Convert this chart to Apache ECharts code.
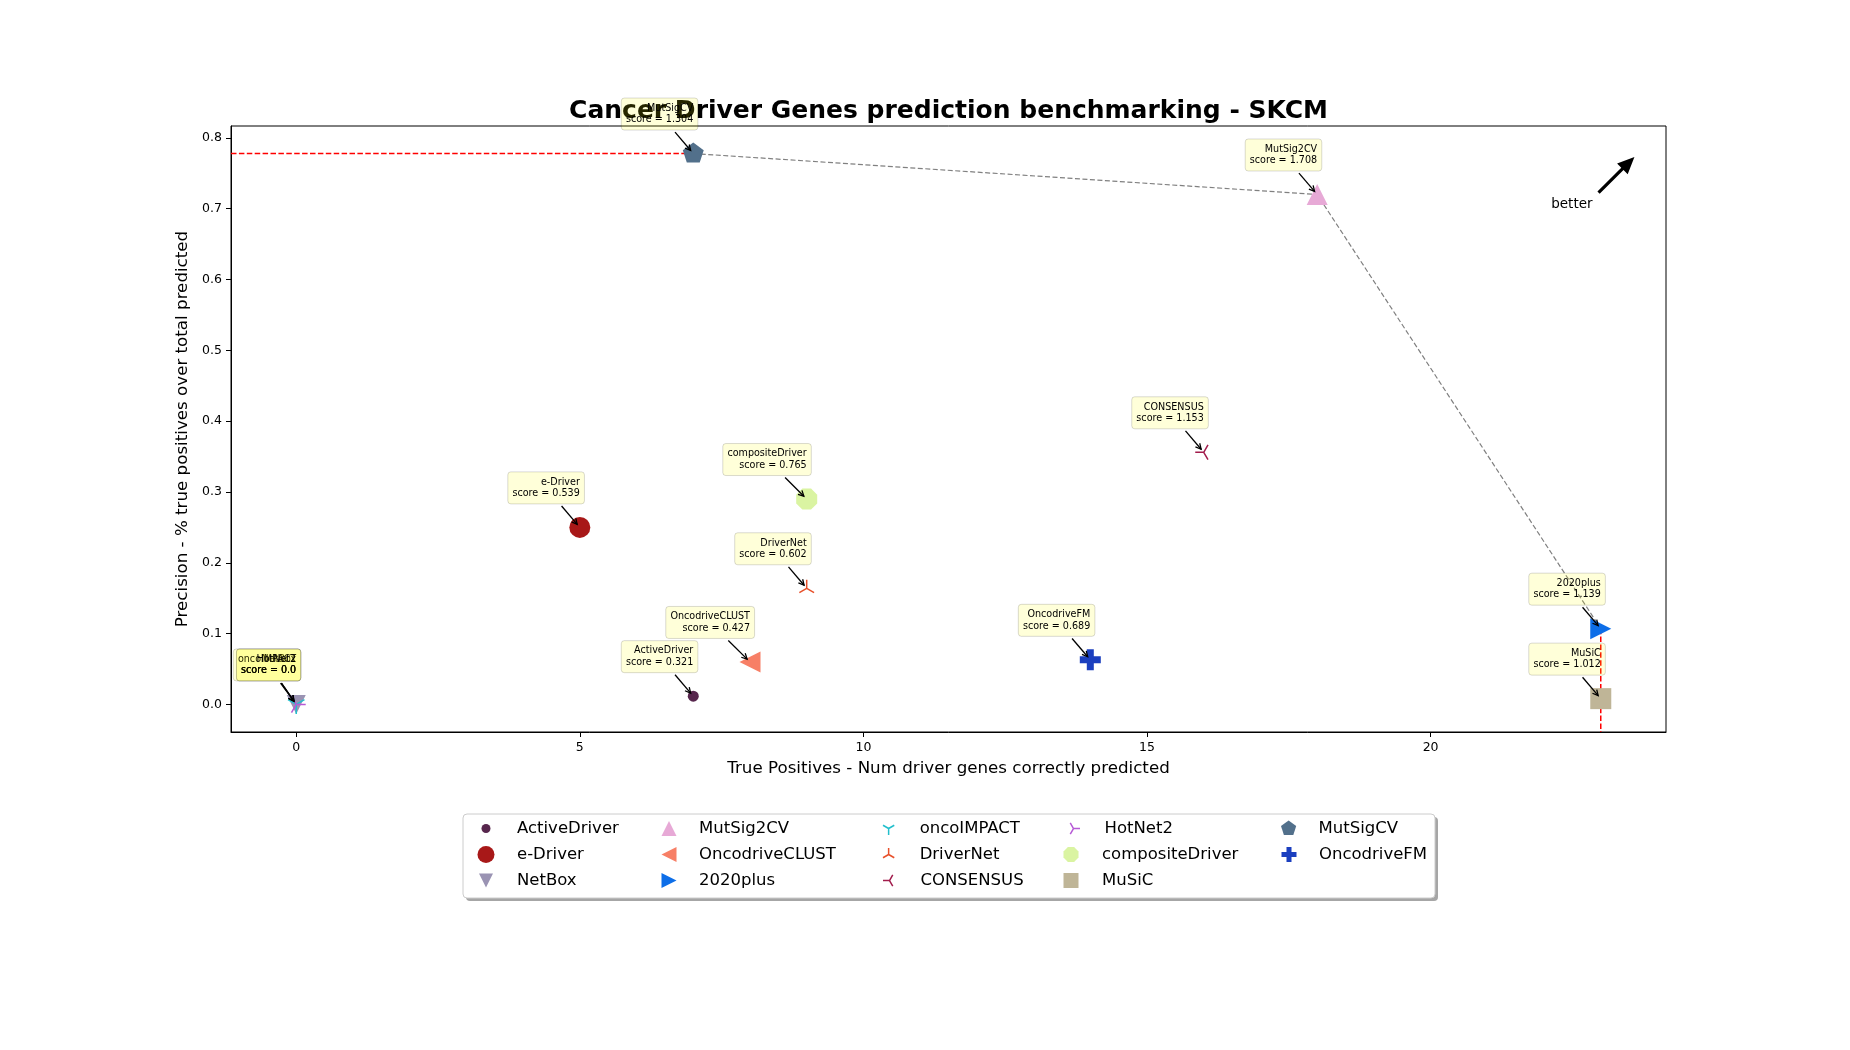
<!DOCTYPE html>
<html>
<head>
<meta charset="utf-8">
<title>Cancer Driver Genes prediction benchmarking - SKCM</title>
<script src="https://cdn.jsdelivr.net/npm/echarts@6/dist/echarts.min.js"></script>
<style>
  html, body { margin: 0; padding: 0; background: #fff; }
  #chart { width: 1850px; height: 1050px; }
</style>
</head>
<body>
<div id="chart"></div>
<script>
// ---- data ----
var methods = ['ActiveDriver', 'e-Driver', 'NetBox', 'MutSig2CV', 'OncodriveCLUST', '2020plus',
  'oncoIMPACT', 'DriverNet', 'CONSENSUS', 'HotNet2', 'compositeDriver', 'MuSiC', 'MutSigCV', 'OncodriveFM'];
var truePositives = [7, 5, 0, 18, 8, 23, 0, 9, 16, 0, 9, 23, 7, 14];
var precision = [0.0117, 0.25, 0.0, 0.72, 0.06, 0.107, 0.0, 0.164, 0.356, 0.0, 0.29, 0.0082, 0.7778, 0.063];
var scores = [0.321, 0.539, 0.0, 1.708, 0.427, 1.139, 0.0, 0.602, 1.153, 0.0, 0.765, 1.012, 1.304, 0.689];
var paretoFront = ['MutSigCV', 'MutSig2CV', '2020plus'];
var xTicks = [0, 5, 10, 15, 20];
var yTicks = [0.0, 0.1, 0.2, 0.3, 0.4, 0.5, 0.6, 0.7, 0.8];
var xRange = [-1.15, 24.15];
var yRange = [-0.0389, 0.8167];

// ---- styles ----
var FONT = '"DejaVu Sans", sans-serif';
var P = {
  triUp: 'path://M0,-1 L1,1 L-1,1 Z',
  triDown: 'path://M0,1 L1,-1 L-1,-1 Z',
  triLeft: 'path://M-1,0 L1,-1 L1,1 Z',
  triRight: 'path://M1,0 L-1,-1 L-1,1 Z',
  tri1: 'path://M0,0 L0,1 M0,0 L-0.866,-0.5 M0,0 L0.866,-0.5 M0,-1 L0,-1',
  tri2: 'path://M0,0 L0,-1 M0,0 L-0.866,0.5 M0,0 L0.866,0.5 M0,1 L0,1',
  tri3: 'path://M0,0 L-1,0 M0,0 L0.5,-0.866 M0,0 L0.5,0.866 M1,0 L1,0',
  tri4: 'path://M0,0 L1,0 M0,0 L-0.5,-0.866 M0,0 L-0.5,0.866 M-1,0 L-1,0',
  pentagon: 'path://M0,-1 L0.951,-0.309 L0.588,0.809 L-0.588,0.809 L-0.951,-0.309 Z M0,1 L0,1',
  octagon: 'path://M0.924,0.383 L0.383,0.924 L-0.383,0.924 L-0.924,0.383 L-0.924,-0.383 L-0.383,-0.924 L0.383,-0.924 L0.924,-0.383 Z',
  plus: 'path://M-1,-3 L1,-3 L1,-1 L3,-1 L3,1 L1,1 L1,3 L-1,3 L-1,1 L-3,1 L-3,-1 L-1,-1 Z'
};
var markers = {
  'ActiveDriver':    { symbol: 'circle',   size: 11, lsize: 9,  color: '#57264d' },
  'e-Driver':        { symbol: 'circle',   size: 21, lsize: 17, color: '#a81818' },
  'NetBox':          { symbol: P.triDown,  size: 19, lsize: 14, color: '#9a93b3' },
  'MutSig2CV':       { symbol: P.triUp,    size: 21, lsize: 15, color: '#e7a9d6' },
  'OncodriveCLUST':  { symbol: P.triLeft,  size: 21, lsize: 15, color: '#f77f66' },
  '2020plus':        { symbol: P.triRight, size: 21, lsize: 15, color: '#0d6ee8' },
  'oncoIMPACT':      { symbol: P.tri1,     size: 19, lsize: 13, color: '#22bfcc', stroke: true },
  'DriverNet':       { symbol: P.tri2,     size: 17, lsize: 13, color: '#e8502a', stroke: true },
  'CONSENSUS':       { symbol: P.tri3,     size: 17, lsize: 13, color: '#a21c4c', stroke: true },
  'HotNet2':         { symbol: P.tri4,     size: 19, lsize: 13, color: '#b65ad6', stroke: true },
  'compositeDriver': { symbol: P.octagon,  size: 21, lsize: 15, color: '#daf4a2' },
  'MuSiC':           { symbol: 'rect',     size: 21, lsize: 15, color: '#bfb597' },
  'MutSigCV':        { symbol: P.pentagon, size: 22, lsize: 16, color: '#52708b' },
  'OncodriveFM':     { symbol: P.plus,     size: 21, lsize: 15, color: '#1b3fbf' }
};

var grid = { left: 231, right: 184, top: 126, bottom: 318 };
var legendColIcon = [486, 669, 887, 1071, 1289];
var legendColText = [517, 699, 918, 1102, 1319];
var legendRowY = [828.5, 854.5, 880.5];

function fmtScore(s) { return Number.isInteger(s) ? s.toFixed(1) : String(s); }

var ANN_FONT = '9.6px "DejaVu Sans"';
var measureCtx = document.createElement('canvas').getContext('2d');
measureCtx.font = ANN_FONT;
function textW(t) { return measureCtx.measureText(t).width; }

// ---- series ----
var series = [];

// pareto front
var paretoData = paretoFront.map(function (n) {
  var i = methods.indexOf(n);
  return [truePositives[i], precision[i]];
});
series.push({
  type: 'line', data: paretoData, symbol: 'none', silent: true, z: 1,
  lineStyle: { color: '#808080', width: 1.2, type: [5, 2.5] }
});

// best precision / best true positives guides
var bestP = 0, bestTP = 0;
methods.forEach(function (n, i) {
  if (precision[i] > precision[bestP]) bestP = i;
  if (truePositives[i] > truePositives[bestTP] ||
      (truePositives[i] === truePositives[bestTP] && precision[i] > precision[bestTP])) bestTP = i;
});
series.push({
  type: 'line', symbol: 'none', silent: true, z: 1,
  data: [[xRange[0], precision[bestP]], [truePositives[bestP], precision[bestP]]],
  lineStyle: { color: '#ff0000', width: 1.5, type: [5.5, 2.4] }
});
series.push({
  type: 'line', symbol: 'none', silent: true, z: 1,
  data: [[truePositives[bestTP], precision[bestTP]], [truePositives[bestTP], yRange[0]]],
  lineStyle: { color: '#ff0000', width: 1.5, type: [5.5, 2.4] }
});

methods.forEach(function (n, i) {
  var m = markers[n];
  series.push({
    name: n, type: 'scatter', z: 3,
    data: [[truePositives[i], precision[i]]],
    symbol: m.symbol, symbolSize: m.size, symbolKeepAspect: true,
    itemStyle: m.stroke
      ? { color: 'none', borderColor: m.color, borderWidth: 1.5, opacity: 1 }
      : { color: m.color, borderWidth: 0, opacity: 1 }
  });
});

// annotation boxes with arrows
function renderAnnotation(params, api) {
  var i = api.value(2);
  var p = api.coord([api.value(0), api.value(1)]);
  var l1 = methods[i], l2 = 'score = ' + fmtScore(scores[i]);
  var pad = 4.6, lh = 11.4;
  var tw = Math.max(textW(l1), textW(l2));
  var bw = tw + 2 * pad, bh = 2 * lh + 2 * pad;
  var bR = p[0] + pad, bB = p[1] - 23.5;
  var cx = bR - bw / 2, cy = bB - bh / 2;
  var dx = p[0] - cx, dy = p[1] - cy;
  var len = Math.sqrt(dx * dx + dy * dy);
  var ux = dx / len, uy = dy / len;
  var t = Math.min(Math.abs(bw / 2 / dx), Math.abs(bh / 2 / dy));
  var sx = cx + dx * t + ux * 2.8, sy = cy + dy * t + uy * 2.8;
  var ex = p[0] - ux * 4, ey = p[1] - uy * 4;
  var hl = 5.5, hw = 2.8;
  var bx = ex - ux * hl, by = ey - uy * hl;
  return {
    type: 'group',
    children: [
      { type: 'rect', shape: { x: bR - bw, y: bB - bh, width: bw, height: bh, r: 3 },
        style: { fill: 'rgba(255,255,0,0.15)', stroke: 'rgba(0,0,0,0.15)', lineWidth: 1 } },
      { type: 'text', style: { text: l1 + '\n' + l2, x: bR - pad, y: bB - pad,
          align: 'right', verticalAlign: 'bottom', textAlign: 'right', textVerticalAlign: 'bottom',
          font: ANN_FONT, lineHeight: lh, fill: '#000' } },
      { type: 'line', shape: { x1: sx, y1: sy, x2: ex, y2: ey },
        style: { stroke: '#000', lineWidth: 1.3 } },
      { type: 'polyline', shape: { points: [[bx - uy * hw, by + ux * hw], [ex, ey], [bx + uy * hw, by - ux * hw]] },
        style: { stroke: '#000', lineWidth: 1.3, fill: 'none' } }
    ]
  };
}
series.push({
  type: 'custom', z: 5, clip: false, silent: true,
  data: methods.map(function (n, i) { return [truePositives[i], precision[i], i]; }),
  encode: { x: 0, y: 1 },
  renderItem: renderAnnotation
});

// ---- legends (column-major like matplotlib, 3 rows) ----
var legends = methods.map(function (n, i) {
  var m = markers[n];
  var col = Math.floor(i / 3), row = i % 3;
  var cxI = legendColIcon[col];
  return {
    data: [{ name: n, icon: m.symbol,
      itemStyle: m.stroke ? { color: 'none', borderColor: m.color, borderWidth: 1.5 }
                          : { color: m.color, borderWidth: 0 } }],
    left: cxI - m.lsize / 2,
    top: legendRowY[row] - 9,
    itemWidth: m.lsize, itemHeight: m.lsize,
    padding: 0, selectedMode: false, z: 10,
    textStyle: { fontFamily: FONT, fontSize: 16.5, color: '#000', lineHeight: 18,
      padding: [0, 0, 0, legendColText[col] - (cxI + m.lsize / 2) - 5] }
  };
});

var chart = echarts.init(document.getElementById('chart'), null, { renderer: 'canvas' });
var W = 1850;
var gw = W - grid.left - grid.right, gh = 1050 - grid.top - grid.bottom;
function gx(f) { return grid.left + f * gw; }
function gy(f) { return grid.top + f * gh; }

// "better" arrow, in axes fractions
var aS = [gx(0.953), gy(0.11)], aT = [gx(0.978), gy(0.051)];
var adx = aT[0] - aS[0], ady = aT[1] - aS[1], aL = Math.sqrt(adx * adx + ady * ady);
var aux = adx / aL, auy = ady / aL, anx = -auy, any = aux;
var hL = 17, hW = 7.5, sW = 1.6;
var aB = [aT[0] - aux * hL, aT[1] - auy * hL];
var arrowPts = [
  [aS[0] + anx * sW, aS[1] + any * sW], [aB[0] + anx * sW, aB[1] + any * sW],
  [aB[0] + anx * hW, aB[1] + any * hW], aT,
  [aB[0] - anx * hW, aB[1] - any * hW], [aB[0] - anx * sW, aB[1] - any * sW],
  [aS[0] - anx * sW, aS[1] - any * sW]
];

var option = {
  animation: false,
  backgroundColor: '#fff',
  grid: { left: grid.left, right: grid.right, top: grid.top, bottom: grid.bottom,
    show: true, borderColor: '#000', borderWidth: 1, backgroundColor: 'transparent' },
  xAxis: {
    type: 'value', min: xRange[0], max: xRange[1],
    name: 'True Positives - Num driver genes correctly predicted',
    nameLocation: 'middle', nameGap: 28,
    nameTextStyle: { fontFamily: FONT, fontSize: 16.7, color: '#000' },
    axisLine: { show: true, onZero: false, lineStyle: { color: '#000', width: 1 } },
    axisTick: { show: true, length: 5, lineStyle: { color: '#000', width: 1 }, customValues: xTicks },
    axisLabel: { fontFamily: FONT, fontSize: 12.5, color: '#000', margin: 9, customValues: xTicks },
    splitLine: { show: false }
  },
  yAxis: {
    type: 'value', min: yRange[0], max: yRange[1],
    name: 'Precision - % true positives over total predicted',
    nameLocation: 'middle', nameGap: 40, nameRotate: 90,
    nameTextStyle: { fontFamily: FONT, fontSize: 16.7, color: '#000' },
    axisLine: { show: true, onZero: false, lineStyle: { color: '#000', width: 1 } },
    axisTick: { show: true, length: 5, lineStyle: { color: '#000', width: 1 }, customValues: yTicks },
    axisLabel: { fontFamily: FONT, fontSize: 12.5, color: '#000', margin: 9, customValues: yTicks,
      formatter: function (v) { return v.toFixed(1); } },
    splitLine: { show: false }
  },
  legend: legends,
  graphic: [
    { type: 'text', z: 0, x: gx(0.5), y: 111,
      style: { text: 'Cancer Driver Genes prediction benchmarking - SKCM',
        font: 'bold 25px "DejaVu Sans"', fill: '#000',
        align: 'center', verticalAlign: 'middle', textAlign: 'center', textVerticalAlign: 'middle' } },
    { type: 'rect', z: 0, shape: { x: 466, y: 817, width: 972, height: 84, r: 4 },
      style: { fill: '#a6a6a6' } },
    { type: 'rect', z: 1, shape: { x: 463, y: 814, width: 972, height: 84, r: 4 },
      style: { fill: '#fff', stroke: '#cccccc', lineWidth: 1 } },
    { type: 'polygon', z: 1, shape: { points: arrowPts }, style: { fill: '#000' } },
    { type: 'text', z: 1, x: aS[0] - 6, y: aS[1] + 12,
      style: { text: 'better', font: '13.5px "DejaVu Sans"', fill: '#000',
        align: 'right', verticalAlign: 'middle', textAlign: 'right', textVerticalAlign: 'middle' } }
  ],
  series: series
};

chart.setOption(option);
window.addEventListener('resize', chart.resize);
</script>
</body>
</html>
